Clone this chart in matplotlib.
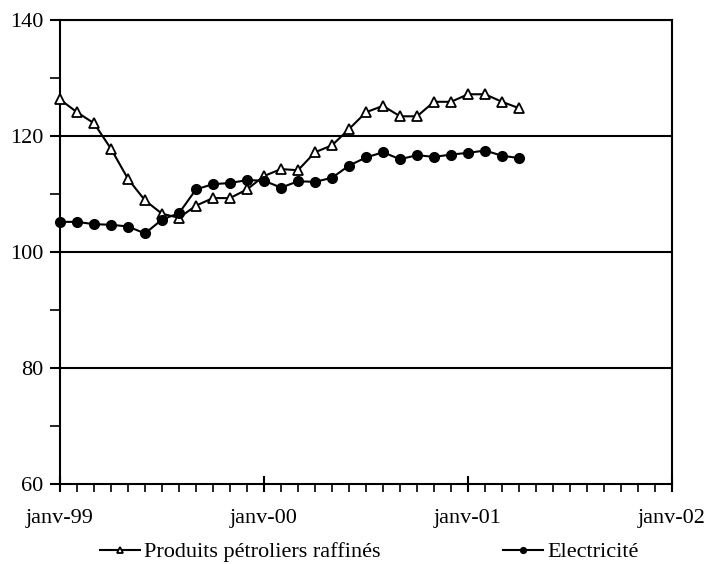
import matplotlib
matplotlib.use("Agg")
import matplotlib.pyplot as plt
from matplotlib.ticker import MultipleLocator

plt.rcParams['font.family'] = ['Liberation Serif', 'DejaVu Serif']

tick_labels = ["janv-99", "janv-00", "janv-01", "janv-02"]
months = list(range(28))  # months since janv-99
petrole = [126.3, 124.1, 122.2, 117.8, 112.6, 108.9, 106.6, 105.9, 108.0, 109.3,
           109.3, 110.8, 113.1, 114.3, 114.1, 117.2, 118.4, 121.2, 124.1, 125.2,
           123.4, 123.4, 125.9, 125.9, 127.2, 127.2, 125.9, 124.8]
electricite = [105.2, 105.2, 104.8, 104.7, 104.4, 103.2, 105.6, 106.7, 110.8, 111.7,
               111.9, 112.4, 112.3, 111.1, 112.2, 112.1, 112.8, 114.9, 116.3, 117.2,
               116.0, 116.7, 116.4, 116.8, 117.1, 117.5, 116.6, 116.2]

fig = plt.figure(figsize=(7.11, 5.64), dpi=100)
ax = fig.add_axes([0.0844, 0.1418, 0.8608, 0.8227])

l1, = ax.plot(months, petrole, color='black', lw=1.5, marker='^', ms=7,
              mfc='white', mec='black', mew=1.3, label='Produits pétroliers raffinés',
              zorder=3, clip_on=False)
l2, = ax.plot(months, electricite, color='black', lw=1.5, marker='o', ms=7,
              mfc='black', mec='black', label='Electricité', zorder=3, clip_on=False)

ax.set_xlim(0, 36)
ax.set_ylim(60, 140)
ax.set_xticks([0, 12, 24, 36])
ax.set_xticklabels(tick_labels)
ax.xaxis.set_minor_locator(MultipleLocator(1))
ax.yaxis.set_major_locator(MultipleLocator(20))
ax.yaxis.set_minor_locator(MultipleLocator(10))

for y in [80, 100, 120, 140]:
    ax.axhline(y, color='black', lw=1.5, zorder=1)

for s in ax.spines.values():
    s.set_linewidth(1.5)
    s.set_color('black')

ax.tick_params(axis='x', which='major', direction='inout', length=12, width=1.5,
               labelsize=16, pad=12)
ax.tick_params(axis='x', which='minor', direction='out', length=6, width=1.2)
ax.tick_params(axis='y', which='major', direction='out', length=7, width=1.5,
               labelsize=16, pad=5)
ax.tick_params(axis='y', which='minor', direction='out', length=7, width=1.2)

common = dict(frameon=False, fontsize=16, handlelength=1.8, handletextpad=0.2,
              borderpad=0, borderaxespad=0, markerscale=0.6, loc='center left')
leg1 = fig.legend(handles=[l1], bbox_to_anchor=(0.1406, 0.021), **common)
leg2 = fig.legend(handles=[l2], bbox_to_anchor=(0.7075, 0.021), **common)

fig.savefig('out.png', dpi=100)
